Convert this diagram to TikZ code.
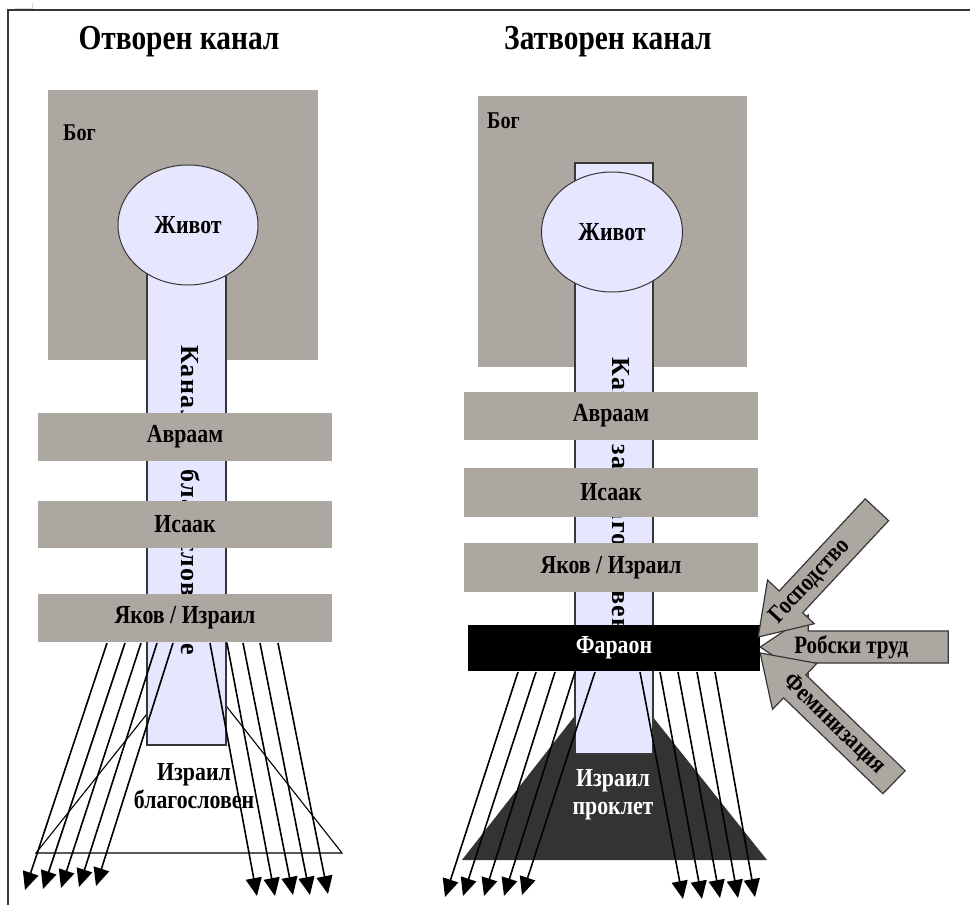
\documentclass[tikz,border=0pt]{standalone}
\usepackage{fontspec}
\setmainfont{Liberation Serif}[FakeStretch=0.84]
\newfontfamily\chanfont{Liberation Serif}[LetterSpace=5]
\usetikzlibrary{arrows.meta,shapes.geometric,calc}
\definecolor{boxgray}{RGB}{172,167,160}
\definecolor{lav}{RGB}{230,230,255}
\definecolor{tri}{RGB}{51,51,51}
\definecolor{edge}{RGB}{55,55,55}
\newcommand\blockarr[6]{%
  \begin{scope}[shift={(#2)}, rotate=#3]
    \draw[barrow] (0,0) -- (48,-32) -- (48,-16) -- (#4,-16) -- (#4,16) -- (48,16) -- (48,32) -- cycle;
    \node[arrowtext, rotate=#3] (#1) at (#5,0) {#6};
  \end{scope}}
\begin{document}
\begin{tikzpicture}[x=1pt,y=-1pt,
  lbl/.style={inner sep=0pt, font=\bfseries\fontsize{26}{30}\selectfont},
  graybox/.style={lbl, fill=boxgray, draw=none},
  bogbox/.style={fill=boxgray, draw=none, inner sep=0pt},
  boglbl/.style={inner sep=0pt, font=\bfseries\fontsize{24}{28}\selectfont},
  title/.style={inner sep=0pt, font=\bfseries\fontsize{35}{40}\selectfont},
  chan/.style={fill=lav, draw=edge, line width=1.2pt, inner sep=0pt},
  chantext/.style={rotate=-90, inner sep=0pt, font=\chanfont\bfseries\fontsize{26}{26}\selectfont},
  life/.style={ellipse, fill=lav, draw=edge, line width=1pt, minimum width=140pt, minimum height=120pt, inner sep=0pt, font=\bfseries\fontsize{26}{30}\selectfont},
  ray/.style={line width=1.6pt, -{Triangle[length=18pt,width=16pt]}},
  barrow/.style={fill=boxgray, draw=edge, line width=1.2pt, line join=miter},
  arrowtext/.style={inner sep=0pt, font=\bfseries\fontsize{25}{28}\selectfont},
  isr/.style={align=center, inner sep=0pt, font=\bfseries\fontsize{26}{28}\selectfont}
]
\useasboundingbox (0,0) rectangle (970,905);
\fill[white] (0,0) rectangle (970,905);
% frame
\draw[gray!30, line width=1pt] (15,8) -- (32,8) -- (32,3);
\draw[edge, line width=2pt] (8,905) -- (8,10) -- (970,10);

% ================= left: open channel =================
\node[title] (t1) at (179,42) {Отворен канал};
\node[bogbox, minimum width=270pt, minimum height=270pt] (bog1) at (183,225) {};
\node[boglbl, anchor=west] (bogl1) at (63,133) {Бог};
\coordinate (tra1) at (190,660);
\coordinate (trb1) at (36,853);
\coordinate (trc1) at (342,853);
\draw[black, line width=1.1pt] (tra1) -- (trb1) -- (trc1) -- cycle;
\node[chan, minimum width=79pt, minimum height=515pt] (ch1) at (186.5,487.5) {};
\node[chantext] (ct1) at (191,500) {Канал на благословение};
\node[life] (zh1) at (188,225) {Живот};
\node[graybox, minimum width=294pt, minimum height=48pt] (ab1) at (185,437) {Авраам};
\node[graybox, minimum width=294pt, minimum height=47pt] (is1) at (185,524.5) {Исаак};
\node[graybox, minimum width=294pt, minimum height=48pt] (ya1) at (185,618) {Яков / Израил};
\foreach \s/\t/\u [count=\i] in {107/25/890,125/43/889,141/61/888,157/79/887,173/96/886}{
  \coordinate (lsa\i) at (\s,643);
  \coordinate (lta\i) at (\t,\u);
  \draw[ray] (lsa\i) -- (lta\i);
}
\foreach \s/\t/\u [count=\i] in {210/257/896,227/275/896,243/293/895,260/310/895,278/328/894}{
  \coordinate (lsb\i) at (\s,643);
  \coordinate (ltb\i) at (\t,\u);
  \draw[ray] (lsb\i) -- (ltb\i);
}
\node[isr] (ib1) at (194,786) {Израил\\благословен};

% ================= right: closed channel =================
\node[title] (t2) at (608,42) {Затворен канал};
\node[bogbox, minimum width=269pt, minimum height=271pt] (bog2) at (612.5,231.5) {};
\node[boglbl, anchor=west] (bogl2) at (487,121) {Бог};
\coordinate (tra2) at (613,667);
\coordinate (trb2) at (462,860);
\coordinate (trc2) at (767,860);
\fill[tri] (tra2) -- (trb2) -- (trc2) -- cycle;
\node[chan, minimum width=78pt, minimum height=591pt] (ch2) at (614,458.5) {};
\node[chantext] (ct2) at (622,510) {Канал за благословение};
\node[life, minimum width=141pt] (zh2) at (612,232) {Живот};
\node[graybox, minimum width=294pt, minimum height=48pt] (ab2) at (611,416) {Авраам};
\node[graybox, minimum width=294pt, minimum height=49pt] (is2) at (611,492.5) {Исаак};
\node[graybox, minimum width=294pt, minimum height=49pt] (ya2) at (611,567.5) {Яков / Израил};
\node[lbl, fill=black, text=white, minimum width=292pt, minimum height=46pt] (ph) at (614,648) {Фараон};
\foreach \s/\t/\u [count=\i] in {518/445/897,536/463/896,555/484/896,575/504/896,595/522/895}{
  \coordinate (rsa\i) at (\s,672);
  \coordinate (rta\i) at (\t,\u);
  \draw[ray] (rsa\i) -- (rta\i);
}
\foreach \s/\t/\u [count=\i] in {640/683/899,660/702/899,678/720/898,697/738/898,715/755/897}{
  \coordinate (rsb\i) at (\s,672);
  \coordinate (rtb\i) at (\t,\u);
  \draw[ray] (rsb\i) -- (rtb\i);
}
\node[isr, text=white] (ib2) at (613,795) {Израил\\проклет};

% block arrows into Pharaoh
\coordinate (tipR) at ($(ph.east)+(0,-1)$);
\coordinate (tipG) at ($(ph.east)+(-2,-11)$);
\coordinate (tipF) at ($(ph.east)+(0,5)$);
\blockarr{robski}{tipR}{0}{188}{91}{Робски труд}
\blockarr{gosp}{tipG}{47}{174}{76}{Господство}
\blockarr{femin}{tipF}{-44}{186}{103}{Феминизация}
\end{tikzpicture}
\end{document}
